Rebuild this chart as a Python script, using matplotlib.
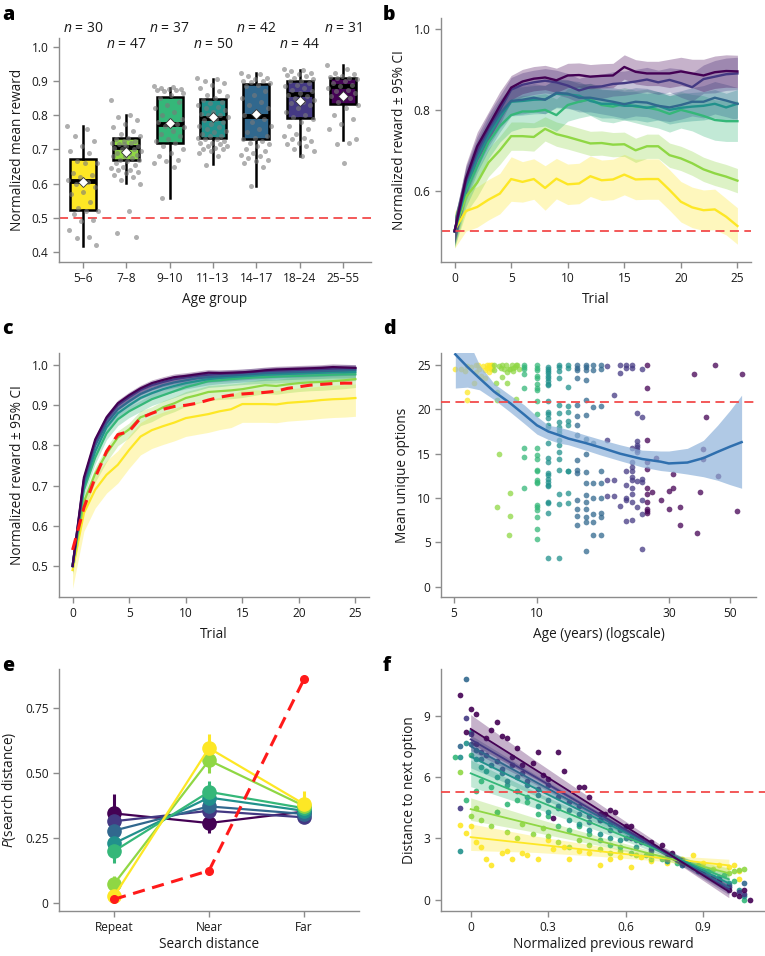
import numpy as np
import matplotlib
matplotlib.use('Agg')
import matplotlib.pyplot as plt
from matplotlib.ticker import NullLocator

plt.rcParams['font.family'] = ['Open Sans', 'DejaVu Sans']
plt.rcParams['mathtext.fontset'] = 'custom'
plt.rcParams['mathtext.it'] = 'Open Sans:italic'
plt.rcParams['mathtext.rm'] = 'Open Sans'

# ---------------- data ----------------
groups = ['5–6', '7–8', '9–10', '11–13', '14–17', '18–24', '25–55']
n_per_group = [30, 47, 37, 50, 42, 44, 31]
colors = ['#fde725', '#8fd744', '#35b779', '#21918c', '#31688e', '#443983', '#440154']

# panel a: box stats (q1, median, q3, whisker low, whisker high, mean)
a_q1 = [0.523, 0.669, 0.720, 0.735, 0.731, 0.792, 0.832]
a_med = [0.608, 0.708, 0.774, 0.793, 0.798, 0.862, 0.885]
a_q3 = [0.671, 0.734, 0.854, 0.847, 0.891, 0.900, 0.908]
a_wlo = [0.419, 0.603, 0.558, 0.657, 0.593, 0.681, 0.728]
a_whi = [0.770, 0.800, 0.880, 0.907, 0.925, 0.932, 0.948]
a_mean = [0.604, 0.694, 0.778, 0.796, 0.803, 0.843, 0.856]
a_points = [
    [0.77, 0.76, 0.74, 0.725, 0.71, 0.695, 0.69, 0.665, 0.66, 0.66, 0.63, 0.625, 0.62, 0.61, 0.605,
     0.60, 0.59, 0.575, 0.57, 0.545, 0.53, 0.52, 0.52, 0.51, 0.495, 0.49, 0.465, 0.445, 0.44, 0.42],
    [0.845, 0.80, 0.795, 0.785, 0.775, 0.765, 0.755, 0.745, 0.74, 0.735, 0.73, 0.725, 0.725, 0.72, 0.72,
     0.715, 0.71, 0.71, 0.705, 0.70, 0.70, 0.695, 0.69, 0.69, 0.685, 0.68, 0.68, 0.675, 0.67, 0.67,
     0.665, 0.66, 0.655, 0.65, 0.645, 0.64, 0.64, 0.635, 0.63, 0.625, 0.62, 0.61, 0.60, 0.52, 0.455,
     0.445, 0.715],
    [0.885, 0.882, 0.88, 0.878, 0.876, 0.875, 0.873, 0.87, 0.865, 0.86, 0.85, 0.84, 0.83, 0.82, 0.81,
     0.80, 0.79, 0.785, 0.78, 0.775, 0.77, 0.765, 0.755, 0.745, 0.74, 0.73, 0.725, 0.72, 0.71, 0.70,
     0.69, 0.68, 0.67, 0.665, 0.66, 0.65, 0.558],
    [0.91, 0.905, 0.90, 0.895, 0.89, 0.88, 0.87, 0.86, 0.855, 0.85, 0.845, 0.84, 0.835, 0.83, 0.825,
     0.82, 0.815, 0.81, 0.805, 0.80, 0.80, 0.795, 0.79, 0.785, 0.78, 0.775, 0.77, 0.765, 0.76, 0.755,
     0.75, 0.745, 0.74, 0.74, 0.735, 0.73, 0.73, 0.725, 0.72, 0.72, 0.715, 0.71, 0.71, 0.705, 0.70,
     0.70, 0.695, 0.69, 0.68, 0.655],
    [0.925, 0.92, 0.915, 0.91, 0.905, 0.90, 0.90, 0.898, 0.895, 0.89, 0.885, 0.87, 0.86, 0.85, 0.84,
     0.83, 0.82, 0.81, 0.80, 0.79, 0.78, 0.77, 0.76, 0.75, 0.74, 0.735, 0.73, 0.725, 0.72, 0.715,
     0.71, 0.70, 0.695, 0.69, 0.685, 0.68, 0.675, 0.67, 0.665, 0.66, 0.65, 0.593],
    [0.935, 0.932, 0.93, 0.925, 0.92, 0.918, 0.915, 0.91, 0.905, 0.90, 0.90, 0.895, 0.89, 0.885, 0.88,
     0.875, 0.87, 0.865, 0.86, 0.855, 0.85, 0.845, 0.84, 0.835, 0.83, 0.82, 0.81, 0.80, 0.795, 0.79,
     0.78, 0.77, 0.76, 0.745, 0.74, 0.735, 0.73, 0.725, 0.72, 0.715, 0.71, 0.70, 0.695, 0.68],
    [0.948, 0.935, 0.925, 0.92, 0.915, 0.912, 0.91, 0.908, 0.905, 0.90, 0.895, 0.89, 0.885, 0.88, 0.875,
     0.87, 0.865, 0.86, 0.855, 0.85, 0.84, 0.83, 0.82, 0.80, 0.79, 0.775, 0.76, 0.72, 0.715, 0.73, 0.66],
]

trials = np.arange(26)
# panel b: reward per trial, per age group, and 95% CI half-widths
b_mean = [
    [0.503, 0.55, 0.56, 0.578, 0.593, 0.629, 0.622, 0.629, 0.607, 0.63, 0.616, 0.618, 0.636, 0.626, 0.628,
     0.64, 0.628, 0.629, 0.629, 0.602, 0.573, 0.559, 0.552, 0.554, 0.536, 0.513],
    [0.50, 0.585, 0.62, 0.67, 0.70, 0.735, 0.735, 0.733, 0.753, 0.74, 0.733, 0.725, 0.717, 0.718, 0.714,
     0.715, 0.70, 0.71, 0.71, 0.688, 0.68, 0.668, 0.653, 0.643, 0.635, 0.625],
    [0.50, 0.60, 0.66, 0.72, 0.76, 0.787, 0.796, 0.796, 0.80, 0.787, 0.812, 0.82, 0.826, 0.812, 0.808,
     0.815, 0.808, 0.806, 0.80, 0.79, 0.80, 0.793, 0.785, 0.775, 0.772, 0.772],
    [0.50, 0.61, 0.68, 0.735, 0.78, 0.82, 0.822, 0.825, 0.826, 0.84, 0.838, 0.835, 0.822, 0.815, 0.815,
     0.81, 0.81, 0.805, 0.81, 0.80, 0.805, 0.808, 0.81, 0.815, 0.806, 0.815],
    [0.50, 0.62, 0.69, 0.745, 0.79, 0.822, 0.825, 0.83, 0.825, 0.842, 0.84, 0.83, 0.83, 0.825, 0.82,
     0.814, 0.82, 0.818, 0.81, 0.806, 0.812, 0.82, 0.82, 0.83, 0.823, 0.815],
    [0.50, 0.625, 0.70, 0.755, 0.80, 0.85, 0.862, 0.868, 0.872, 0.868, 0.86, 0.848, 0.856, 0.858, 0.864,
     0.866, 0.87, 0.875, 0.868, 0.874, 0.866, 0.856, 0.876, 0.882, 0.888, 0.89],
    [0.50, 0.63, 0.71, 0.76, 0.81, 0.855, 0.87, 0.877, 0.88, 0.873, 0.885, 0.886, 0.882, 0.884, 0.885,
     0.906, 0.894, 0.89, 0.89, 0.89, 0.895, 0.89, 0.885, 0.893, 0.896, 0.895],
]
b_ci = [
    [0.045, 0.05, 0.05, 0.05, 0.05, 0.055, 0.05, 0.05, 0.055, 0.05, 0.05, 0.05, 0.05, 0.05, 0.05,
     0.05, 0.05, 0.05, 0.05, 0.05, 0.05, 0.05, 0.05, 0.05, 0.045, 0.045],
    [0.04, 0.04, 0.035, 0.035, 0.035, 0.035, 0.035, 0.035, 0.03, 0.03, 0.03, 0.03, 0.03, 0.03, 0.03,
     0.03, 0.03, 0.03, 0.03, 0.03, 0.03, 0.03, 0.03, 0.03, 0.03, 0.03],
    [0.04, 0.04, 0.04, 0.04, 0.04, 0.04, 0.04, 0.04, 0.04, 0.04, 0.04, 0.04, 0.04, 0.04, 0.04,
     0.04, 0.04, 0.045, 0.045, 0.045, 0.045, 0.045, 0.05, 0.05, 0.05, 0.05],
    [0.035, 0.035, 0.035, 0.035, 0.035, 0.035, 0.035, 0.035, 0.035, 0.035, 0.035, 0.035, 0.035, 0.035, 0.035,
     0.035, 0.035, 0.035, 0.035, 0.035, 0.035, 0.035, 0.035, 0.035, 0.035, 0.035],
    [0.035, 0.035, 0.035, 0.035, 0.035, 0.035, 0.035, 0.035, 0.035, 0.035, 0.035, 0.035, 0.035, 0.035, 0.035,
     0.035, 0.035, 0.035, 0.035, 0.035, 0.035, 0.035, 0.04, 0.04, 0.04, 0.04],
    [0.03, 0.035, 0.035, 0.035, 0.035, 0.03, 0.03, 0.03, 0.03, 0.03, 0.03, 0.03, 0.03, 0.03, 0.03,
     0.03, 0.03, 0.03, 0.03, 0.03, 0.035, 0.035, 0.035, 0.04, 0.04, 0.04],
    [0.03, 0.035, 0.035, 0.035, 0.035, 0.03, 0.03, 0.03, 0.03, 0.03, 0.03, 0.03, 0.03, 0.03, 0.03,
     0.03, 0.03, 0.03, 0.03, 0.035, 0.035, 0.035, 0.04, 0.04, 0.04, 0.04],
]
# panel c: simulated reward curves and model (red dashed)
c_mean = [
    [0.49, 0.632, 0.69, 0.727, 0.752, 0.789, 0.822, 0.838, 0.848, 0.857, 0.868, 0.873, 0.878, 0.885, 0.89,
     0.903, 0.903, 0.903, 0.902, 0.906, 0.908, 0.91, 0.913, 0.915, 0.916, 0.918],
    [0.50, 0.66, 0.73, 0.78, 0.82, 0.84, 0.87, 0.88, 0.895, 0.905, 0.918, 0.925, 0.933, 0.935, 0.937,
     0.94, 0.945, 0.95, 0.948, 0.952, 0.955, 0.957, 0.958, 0.96, 0.962, 0.965],
    [0.50, 0.69, 0.77, 0.83, 0.865, 0.885, 0.90, 0.915, 0.925, 0.935, 0.945, 0.952, 0.96, 0.962, 0.965,
     0.967, 0.969, 0.97, 0.971, 0.972, 0.973, 0.974, 0.975, 0.976, 0.977, 0.977],
    [0.50, 0.70, 0.785, 0.845, 0.88, 0.90, 0.918, 0.93, 0.94, 0.948, 0.955, 0.96, 0.965, 0.968, 0.97,
     0.972, 0.974, 0.976, 0.977, 0.978, 0.979, 0.98, 0.981, 0.982, 0.982, 0.983],
    [0.50, 0.71, 0.80, 0.855, 0.89, 0.91, 0.928, 0.94, 0.95, 0.957, 0.962, 0.967, 0.97, 0.972, 0.974,
     0.976, 0.978, 0.98, 0.981, 0.982, 0.983, 0.984, 0.985, 0.986, 0.987, 0.988],
    [0.50, 0.715, 0.81, 0.865, 0.90, 0.92, 0.938, 0.95, 0.958, 0.965, 0.969, 0.973, 0.976, 0.978, 0.979,
     0.981, 0.983, 0.985, 0.986, 0.987, 0.988, 0.989, 0.99, 0.991, 0.992, 0.992],
    [0.50, 0.72, 0.815, 0.87, 0.905, 0.925, 0.942, 0.955, 0.963, 0.97, 0.973, 0.977, 0.981, 0.98, 0.981,
     0.982, 0.984, 0.987, 0.989, 0.99, 0.991, 0.992, 0.993, 0.995, 0.994, 0.993],
]
c_ci = [0.035, 0.016, 0.012, 0.011, 0.01, 0.009, 0.008]
c_model = [0.54, 0.645, 0.72, 0.785, 0.827, 0.835, 0.868, 0.88, 0.89, 0.897, 0.90, 0.905, 0.913, 0.92, 0.925,
           0.928, 0.93, 0.932, 0.935, 0.942, 0.946, 0.95, 0.952, 0.954, 0.955, 0.955]

# panel d: per-participant age and mean unique options, by age group
d_age = [
    [5.07, 5.3, 5.5, 5.6, 5.6, 5.6, 5.8, 5.9, 6.0, 6.0, 6.1, 6.2, 6.3, 6.4, 6.5, 6.6, 6.6, 6.7, 6.7, 6.8,
     6.8, 6.9, 6.9, 6.9, 6.7, 6.5],
    [7.0, 7.0, 7.1, 7.2, 7.2, 7.2, 7.3, 7.4, 7.5, 7.6, 7.7, 7.8, 7.8, 7.9, 8.0, 8.0, 8.0, 8.1, 8.2, 8.3,
     8.4, 8.5, 8.6, 7.3, 7.5, 7.9, 8.2, 8.4],
    [9, 9, 9, 9, 9, 9, 9, 9] + [10] * 24,
    [11] * 28 + [12] * 18 + [13] * 11,
    [14] * 15 + [15] * 16 + [16] * 9 + [17] * 9,
    [18] * 4 + [19] * 3 + [20] * 3 + [21] * 7 + [22] * 12 + [23] * 8 + [24] * 7,
    [25] * 11 + [26, 27, 28, 30, 30, 31, 31, 33, 33, 37, 38, 39, 40, 40, 41, 44, 45, 53, 55],
]
d_val = [
    [24.5, 24.6, 24.3, 22.0, 21.0, 24.9, 24.8, 23.0, 24.2, 25.0, 25.0, 24.6, 23.8, 24.9, 24.4, 25.0, 24.7,
     25.0, 24.8, 24.5, 25.0, 25.0, 24.9, 24.6, 24.2, 23.5],
    [25.0, 24.4, 23.0, 22.0, 21.0, 9.0, 15.0, 24.7, 25.0, 24.6, 25.0, 24.2, 23.0, 5.8, 10.6, 8.0, 24.6, 25.0,
     24.3, 24.8, 21.2, 25.0, 24.5, 24.9, 23.6, 24.5, 24.7, 25.0],
    [25.0, 24.8, 24.5, 24.0, 22.4, 15.6, 14.6, 11.1,
     25.0, 24.7, 24.4, 23.8, 23.5, 22.8, 22.4, 22.2, 20.9, 19.5, 15.6, 14.8, 14.4, 13.2, 13.0, 12.0, 11.8,
     11.7, 9.2, 9.0, 8.6, 7.9, 6.5, 5.4],
    [24.8, 24.6, 24.3, 24.1, 23.8, 23.5, 23.2, 22.9, 22.7, 20.9, 19.7, 19.5, 19.0, 18.2, 18.0, 16.2, 14.5,
     14.1, 12.8, 12.6, 12.2, 11.8, 11.5, 11.3, 9.6, 9.4, 8.3, 3.2,
     25.0, 24.8, 24.3, 23.5, 20.5, 19.6, 18.6, 18.0, 17.7, 17.3, 16.5, 16.0, 15.2, 14.4, 13.2, 10.5, 9.3, 3.2,
     25.0, 24.7, 22.5, 20.4, 19.7, 18.7, 18.2, 13.1, 13.0, 10.6, 9.4],
    [25.0, 24.7, 24.4, 23.5, 20.5, 19.2, 18.2, 17.1, 14.3, 13.2, 12.8, 9.8, 8.8, 8.0, 7.0,
     25.0, 24.8, 24.4, 23.3, 21.1, 19.4, 16.7, 15.0, 12.9, 11.7, 10.3, 9.6, 8.8, 7.9, 7.3, 4.0,
     25.0, 24.4, 20.3, 16.2, 11.7, 10.0, 8.2, 7.3, 5.8,
     25.0, 24.6, 20.4, 13.0, 11.7, 10.0, 8.3, 7.9, 5.8],
    [24.9, 16.5, 12.0, 10.2, 21.6, 12.0, 10.2, 25.0, 24.1, 9.1,
     25.0, 24.7, 13.0, 11.5, 10.0, 9.8, 7.4,
     25.0, 24.7, 15.6, 14.1, 13.5, 13.0, 12.4, 12.0, 11.1, 10.5, 9.6, 7.5,
     19.6, 16.4, 16.0, 15.8, 15.4, 15.2, 11.9, 9.0,
     24.5, 19.1, 12.2, 11.8, 9.8, 8.2, 4.3],
    [25.0, 22.4, 16.5, 14.1, 13.3, 11.1, 10.4, 9.6, 8.8, 8.5, 8.3,
     10.7, 14.5, 9.8, 10.8, 8.8, 12.7, 11.1, 9.0, 7.0, 24.0, 6.0, 10.7, 15.5, 14.4, 19.1, 25.0, 12.5, 8.5, 24.0],
]
d_fit_age = [5.07, 5.6, 6.2, 7, 8, 9, 10, 11, 12, 13, 15, 17, 20, 24, 28, 30, 35, 40, 45, 50, 55]
d_fit = [26.2, 24.8, 23.5, 22.0, 20.7, 19.4, 18.2, 17.5, 17.1, 16.7, 16.2, 15.7, 15.0, 14.4, 14.1, 13.9,
         14.0, 14.5, 15.2, 15.8, 16.3]
d_lo = [22.4, 22.5, 22.2, 21.1, 19.7, 18.4, 17.2, 16.6, 16.2, 16.0, 15.4, 14.85, 14.2, 13.5, 13.1, 13.0,
        12.7, 12.4, 12.0, 11.5, 11.1]
d_hi = [30.0, 28.0, 25.0, 22.9, 21.6, 20.5, 19.2, 18.2, 18.0, 17.7, 17.1, 16.6, 16.0, 15.4, 15.3, 15.3,
        15.6, 16.5, 18.2, 19.9, 21.6]
d_random = 20.83

# panel e: search distance probabilities (groups young->old), error half-widths, model
e_cats = ['Repeat', 'Near', 'Far']
e_p = [
    [0.027, 0.596, 0.381],
    [0.074, 0.549, 0.374],
    [0.200, 0.428, 0.365],
    [0.230, 0.406, 0.355],
    [0.279, 0.372, 0.343],
    [0.315, 0.355, 0.330],
    [0.345, 0.308, 0.352],
]
e_err = [
    [0.015, 0.055, 0.05],
    [0.03, 0.05, 0.02],
    [0.045, 0.04, 0.015],
    [0.03, 0.03, 0.015],
    [0.02, 0.02, 0.015],
    [0.02, 0.02, 0.02],
    [0.075, 0.04, 0.015],
]
e_model = [0.015, 0.125, 0.86]

# panel f: distance to next option vs previous reward, by group (young->old)
f_x = [
    [-0.04, -0.02, 0.0, 0.02, 0.04, 0.06, 0.08, 0.12, 0.14, 0.16, 0.2, 0.22, 0.26, 0.3, 0.32, 0.36, 0.38, 0.42,
     0.46, 0.5, 0.54, 0.58, 0.62, 0.66, 0.7, 0.76, 0.82, 0.86, 0.9, 0.96, 1.0, 1.02, 1.04, 1.04],
    [-0.04, 0.0, 0.02, 0.04, 0.08, 0.1, 0.14, 0.18, 0.2, 0.24, 0.28, 0.3, 0.34, 0.38, 0.42, 0.46, 0.5, 0.54,
     0.58, 0.64, 0.7, 0.76, 0.82, 0.88, 0.94, 1.0, 1.02, 1.04, 1.06],
    [-0.06, -0.02, 0.0, 0.02, 0.04, 0.08, 0.1, 0.14, 0.18, 0.22, 0.26, 0.3, 0.34, 0.38, 0.42, 0.46, 0.5, 0.54,
     0.58, 0.62, 0.68, 0.74, 0.8, 0.86, 0.92, 0.98, 1.02, 1.06],
    [-0.02, -0.04, -0.04, 0.0, 0.02, 0.04, 0.06, 0.1, 0.14, 0.18, 0.22, 0.26, 0.3, 0.34, 0.38, 0.42, 0.46, 0.5,
     0.54, 0.58, 0.64, 0.7, 0.76, 0.82, 0.88, 0.96, 1.0, 1.04, 1.06],
    [-0.02, -0.04, 0.0, 0.02, 0.04, 0.08, 0.12, 0.14, 0.18, 0.22, 0.26, 0.3, 0.34, 0.38, 0.42, 0.46, 0.5, 0.54,
     0.6, 0.64, 0.7, 0.76, 0.82, 0.88, 0.94, 1.0, 1.06],
    [-0.02, -0.04, 0.0, 0.02, 0.04, 0.06, 0.1, 0.12, 0.16, 0.2, 0.22, 0.26, 0.3, 0.34, 0.38, 0.42, 0.46, 0.5,
     0.54, 0.58, 0.62, 0.66, 0.7, 0.76, 0.82, 0.9, 0.96, 1.0, 1.04, 1.06],
    [0.0, 0.02, -0.04, -0.02, 0.06, 0.08, 0.1, 0.12, 0.14, 0.16, 0.18, 0.2, 0.24, 0.26, 0.28, 0.3, 0.32, 0.34,
     0.36, 0.42, 0.44, 0.46, 0.5, 0.52, 0.54, 0.56, 0.6, 0.62, 0.66, 0.7, 0.74, 0.78, 0.84, 0.9, 0.96, 1.0,
     1.02, 1.04, 1.06, 1.08],
]
f_y = [
    [3.67, 3.27, 3.6, 2.8, 2.6, 2.0, 1.7, 2.3, 2.4, 2.0, 2.3, 2.2, 2.0, 2.9, 2.5, 2.6, 2.0, 2.4, 2.3, 1.7,
     2.0, 2.1, 1.6, 2.1, 1.9, 1.8, 2.0, 2.2, 1.8, 1.7, 1.6, 1.7, 1.0, 1.4],
    [6.26, 4.1, 4.5, 3.9, 3.6, 4.3, 3.3, 3.0, 3.7, 3.2, 3.5, 3.1, 2.8, 2.6, 2.9, 2.7, 2.5, 2.3, 2.4, 2.2,
     2.0, 1.9, 1.8, 1.7, 1.5, 1.3, 1.4, 1.45, 1.5],
    [7.0, 4.9, 7.1, 5.3, 5.8, 5.5, 4.3, 4.7, 4.9, 4.8, 4.2, 4.1, 3.6, 3.4, 3.6, 3.2, 2.9, 2.7, 2.6, 2.3,
     2.2, 2.0, 1.8, 1.6, 1.4, 1.2, 0.9, 0.0],
    [7.67, 7.0, 2.36, 8.2, 6.9, 6.5, 6.3, 6.0, 5.6, 5.3, 5.0, 4.6, 4.3, 4.5, 3.9, 3.7, 3.4, 3.2, 3.0, 2.9,
     2.6, 2.2, 1.9, 1.7, 1.5, 1.1, 0.8, 0.5, 0.2],
    [10.78, 7.5, 7.6, 7.3, 6.9, 6.6, 6.2, 5.8, 6.0, 5.6, 5.1, 4.9, 4.6, 4.4, 4.2, 3.8, 3.9, 3.4, 3.0, 2.9,
     2.4, 2.0, 1.7, 1.4, 1.1, 0.7, 0.8],
    [8.9, 4.5, 8.1, 7.6, 7.2, 7.1, 6.8, 6.4, 6.6, 6.2, 5.8, 5.4, 5.6, 5.0, 4.8, 4.6, 4.1, 3.9, 3.7, 3.4,
     3.0, 2.8, 2.5, 2.1, 1.9, 1.4, 1.0, 0.6, 0.4, 0.3],
    [9.34, 9.1, 10.0, 8.2, 7.9, 8.3, 8.7, 8.0, 7.9, 7.0, 7.4, 6.6, 6.7, 7.2, 6.1, 5.9, 4.0, 7.2, 6.3, 5.5,
     5.5, 5.0, 4.2, 4.2, 4.4, 4.3, 3.6, 3.6, 3.0, 2.8, 2.7, 2.3, 1.8, 1.4, 0.9, 0.5, 0.3, 0.2, 0.5, 0.0],
]
f_band_x = [0.0, 0.25, 0.5, 0.75, 1.0]
f_fit0 = [3.06, 4.43, 6.18, 7.0, 7.5, 7.84, 8.35]   # fitted value at x = 0
f_fit1 = [1.68, 1.3, 1.0, 0.8, 0.6, 0.5, 0.4]       # fitted value at x = 1
f_band = [
    [0.65, 0.4, 0.25, 0.15, 0.3],
    [0.55, 0.35, 0.22, 0.14, 0.25],
    [0.65, 0.4, 0.25, 0.15, 0.25],
    [0.55, 0.35, 0.22, 0.14, 0.25],
    [0.55, 0.35, 0.22, 0.14, 0.25],
    [0.55, 0.35, 0.22, 0.14, 0.25],
    [0.7, 0.45, 0.3, 0.18, 0.3],
]
f_random = 5.27

# ---------------- drawing ----------------
SPINE = '#8c8c8c'
TXT = '#1a1a1a'
RED_LIGHT = '#f24b4b'


def style(ax):
    for s in ('top', 'right'):
        ax.spines[s].set_visible(False)
    for s in ('left', 'bottom'):
        ax.spines[s].set_color(SPINE)
        ax.spines[s].set_linewidth(1.0)
    ax.tick_params(colors=SPINE, labelcolor=TXT, labelsize=8.6, length=4, width=1.0)


W, H = 765, 956
fig = plt.figure(figsize=(W / 100, H / 100), dpi=100)


def add_ax(l, r, t, b):
    return fig.add_axes([l / W, 1 - b / H, (r - l) / W, (b - t) / H])


axa = add_ax(59, 371, 38, 262)
axb = add_ax(441, 751, 18, 262)
axc = add_ax(59, 369, 353, 597)
axd = add_ax(441, 756, 353, 597)
axe = add_ax(59, 359, 669, 911)
axf = add_ax(441, 765, 669, 911)
for ax in (axa, axb, axc, axd, axe, axf):
    style(ax)

lab_kw = dict(fontsize=9.8, color=TXT)

# ---- a ----
stats = [dict(med=a_med[i], q1=a_q1[i], q3=a_q3[i], whislo=a_wlo[i], whishi=a_whi[i],
              mean=a_mean[i], fliers=[]) for i in range(7)]
bp = axa.bxp(stats, positions=range(7), widths=0.6, patch_artist=True, showmeans=True,
             showfliers=False, showcaps=False,
             boxprops=dict(lw=1.8, edgecolor='black'),
             whiskerprops=dict(lw=1.8, color='black'),
             medianprops=dict(lw=3.5, color='black', zorder=4),
             meanprops=dict(marker='D', markerfacecolor='white', markeredgecolor='#333333',
                            markeredgewidth=0.6, markersize=5, zorder=6))
for patch, c in zip(bp['boxes'], colors):
    patch.set_facecolor(c)
for i, pts in enumerate(a_points):
    k = np.arange(len(pts))
    jit = ((k * 0.618034) % 1 - 0.5) * 0.72
    axa.scatter(i + jit, pts, s=13, color='#7a7a7a', alpha=0.6, lw=0, zorder=5)
axa.axhline(0.5, color=RED_LIGHT, lw=1.3, ls=(0, (5, 3)), zorder=1)
for i, n in enumerate(n_per_group):
    axa.text(i, 1.031 if i % 2 == 0 else 0.985, f'$n$ = {n}', ha='center', va='bottom',
             fontsize=10, color=TXT, clip_on=False)
axa.set_xlim(-0.55, 6.65)
axa.set_ylim(0.371, 1.026)
axa.set_xticks(range(7))
axa.set_xticklabels(groups)
axa.set_yticks([0.4, 0.5, 0.6, 0.7, 0.8, 0.9, 1.0])
axa.set_yticklabels(['0.4', '0.5', '0.6', '0.7', '0.8', '0.9', '1.0'])
axa.set_xlabel('Age group', labelpad=5, **lab_kw)
axa.set_ylabel('Normalized mean reward', labelpad=5, **lab_kw)

# ---- b ----
for m, ci, c in zip(b_mean, b_ci, colors):
    m, ci = np.array(m), np.array(ci)
    axb.fill_between(trials, m - ci, m + ci, color=c, alpha=0.3, lw=0)
    axb.plot(trials, m, color=c, lw=1.7)
axb.axhline(0.5, color=RED_LIGHT, lw=1.3, ls=(0, (5, 3)))
axb.set_xlim(-1.2, 26.2)
axb.set_ylim(0.424, 1.027)
axb.set_xticks([0, 5, 10, 15, 20, 25])
axb.set_yticks([0.6, 0.8, 1.0])
axb.set_yticklabels(['0.6', '0.8', '1.0'])
axb.set_xlabel('Trial', labelpad=5, **lab_kw)
axb.set_ylabel('Normalized reward ± 95% CI', labelpad=5, **lab_kw)

# ---- c ----
for m, ci, c in zip(c_mean, c_ci, colors):
    m = np.array(m)
    axc.fill_between(trials, m - ci * 1.3, m + ci, color=c, alpha=0.3, lw=0)
    axc.plot(trials, m, color=c, lw=1.6)
axc.plot(trials, c_model, color='#ff1a1a', lw=2.2, ls=(0, (4, 2.5)), zorder=6)
axc.set_xlim(-1.2, 26.2)
axc.set_ylim(0.423, 1.03)
axc.set_xticks([0, 5, 10, 15, 20, 25])
axc.set_yticks([0.5, 0.6, 0.7, 0.8, 0.9, 1.0])
axc.set_yticklabels(['0.5', '0.6', '0.7', '0.8', '0.9', '1.0'])
axc.set_xlabel('Trial', labelpad=5, **lab_kw)
axc.set_ylabel('Normalized reward ± 95% CI', labelpad=5, **lab_kw)

# ---- d ----
axd.set_xscale('log')
for ages, vals, c in zip(d_age, d_val, colors):
    axd.scatter(ages, vals, s=17, color=c, alpha=0.75, lw=0, zorder=2)
axd.fill_between(d_fit_age, d_lo, d_hi, color='#8fb3da', alpha=0.7, lw=0, zorder=3)
axd.plot(d_fit_age, d_fit, color='#2f6fae', lw=1.8, zorder=4)
axd.axhline(d_random, color=RED_LIGHT, lw=1.3, ls=(0, (5, 3)), zorder=5)
axd.set_xlim(4.5, 62)
axd.set_ylim(-1.16, 26.35)
axd.set_xticks([5, 10, 30, 50])
axd.set_xticklabels(['5', '10', '30', '50'])
axd.xaxis.set_minor_locator(NullLocator())
axd.set_yticks([0, 5, 10, 15, 20, 25])
axd.set_xlabel('Age (years) (logscale)', labelpad=5, **lab_kw)
axd.set_ylabel('Mean unique options', labelpad=5, **lab_kw)

# ---- e ----
ex = np.arange(3)
for p, err, c in reversed(list(zip(e_p, e_err, colors))):
    axe.errorbar(ex, p, yerr=err, color=c, marker='o', ms=9.5, lw=1.6, elinewidth=2.2, capsize=0)
axe.plot(ex, e_model, color='#ff1a1a', lw=2.2, ls=(0, (4, 2.5)), marker='o', ms=5.5, zorder=6)
axe.set_xlim(-0.58, 2.58)
axe.set_ylim(-0.03, 0.90)
axe.set_xticks(ex)
axe.set_xticklabels(e_cats)
axe.set_yticks([0, 0.25, 0.5, 0.75])
axe.set_yticklabels(['0', '0.25', '0.50', '0.75'])
axe.set_xlabel('Search distance', labelpad=2, **lab_kw)
axe.set_ylabel('$P$(search distance)', labelpad=5, **lab_kw)

# ---- f ----
bx = np.array(f_band_x)
for i, c in enumerate(colors):
    axf.scatter(f_x[i], f_y[i], s=17, color=c, alpha=0.9, lw=0, zorder=2)
for i, c in enumerate(colors):
    fit = np.array([f_fit0[i] + (f_fit1[i] - f_fit0[i]) * x for x in f_band_x])
    hw = np.array(f_band[i])
    axf.fill_between(bx, fit - hw, fit + hw, color=c, alpha=0.3, lw=0, zorder=3)
    axf.plot([0, 1], [f_fit0[i], f_fit1[i]], color=c, lw=1.3, zorder=4)
axf.axhline(f_random, color=RED_LIGHT, lw=1.3, ls=(0, (5, 3)), zorder=5)
axf.set_xlim(-0.115, 1.14)
axf.set_ylim(-0.55, 11.28)
axf.set_xticks([0, 0.3, 0.6, 0.9])
axf.set_xticklabels(['0', '0.3', '0.6', '0.9'])
axf.set_yticks([0, 3, 6, 9])
axf.set_xlabel('Normalized previous reward', labelpad=2, **lab_kw)
axf.set_ylabel('Distance to next option', labelpad=5, **lab_kw)

# panel letters
for letter, x, y in [('a', 2, 5), ('b', 383, 5), ('c', 2, 319), ('d', 383, 319), ('e', 2, 656), ('f', 383, 656)]:
    fig.text(x / W, 1 - y / H, letter, fontsize=14, fontweight='heavy', ha='left', va='top', color='black')

fig.savefig('out.png', dpi=100)
